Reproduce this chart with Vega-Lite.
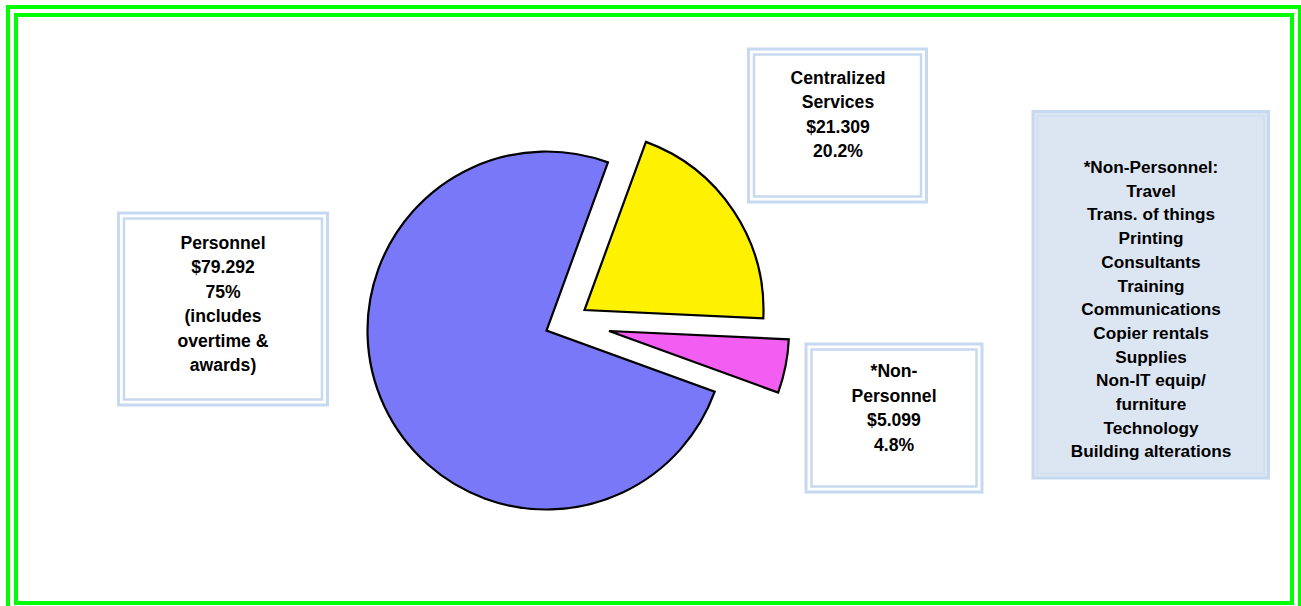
{
  "$schema": "https://vega.github.io/schema/vega-lite/v6.json",
  "width": 1301,
  "height": 606,
  "padding": 0,
  "autosize": {"type": "none"},
  "background": "white",
  "config": {"view": {"stroke": null}, "text": {"font": "Liberation Sans"}},
  "datasets": {
    "budget": [
      {"category": "Personnel", "amount": 79.292, "share": "75%", "label": "Personnel\n$79.292\n75%\n(includes\novertime &\nawards)"},
      {"category": "Centralized Services", "amount": 21.309, "share": "20.2%", "label": "Centralized\nServices\n$21.309\n20.2%"},
      {"category": "*Non-Personnel", "amount": 5.099, "share": "4.8%", "label": "*Non-\nPersonnel\n$5.099\n4.8%"}
    ],
    "notes": [
      {"note": "*Non-Personnel:\nTravel\nTrans. of things\nPrinting\nConsultants\nTraining\nCommunications\nCopier rentals\nSupplies\nNon-IT equip/\nfurniture\nTechnology\nBuilding alterations"}
    ],
    "frame": [{"frame": "border"}]
  },
  "data": {"name": "budget"},
  "layer": [
    {
      "data": {"name": "frame"},
      "mark": {"type": "rect", "fill": null, "stroke": "#00FF00", "strokeWidth": 4},
      "encoding": {
        "x": {"datum": 8, "type": "quantitative", "scale": {"domain": [0, 1301], "nice": false, "zero": false}, "axis": null},
        "x2": {"datum": 1300},
        "y": {"datum": 7, "type": "quantitative", "scale": {"domain": [0, 606], "nice": false, "zero": false, "reverse": true}, "axis": null},
        "y2": {"datum": 611}
      }
    },
    {
      "data": {"name": "frame"},
      "mark": {"type": "rect", "fill": null, "stroke": "#00FF00", "strokeWidth": 4},
      "encoding": {
        "x": {"datum": 16, "type": "quantitative"},
        "x2": {"datum": 1292},
        "y": {"datum": 15, "type": "quantitative"},
        "y2": {"datum": 603}
      }
    },
    {
      "transform": [
        {"stack": "amount", "groupby": [], "sort": [{"field": "amount", "order": "descending"}], "as": ["t0", "t1"]},
        {"filter": "datum.category === 'Personnel'"}
      ],
      "mark": {"type": "arc", "radius": 179, "stroke": "black", "strokeWidth": 2.2, "fill": "#7878F8"},
      "encoding": {
        "x": {"datum": 546.5, "type": "quantitative"},
        "y": {"datum": 330.5, "type": "quantitative"},
        "theta": {"field": "t0", "type": "quantitative", "scale": {"domain": [0, 105.7], "range": [1.92, 8.2032]}},
        "theta2": {"field": "t1"}
      }
    },
    {
      "transform": [
        {"stack": "amount", "groupby": [], "sort": [{"field": "amount", "order": "descending"}], "as": ["t0", "t1"]},
        {"filter": "datum.category === 'Centralized Services'"}
      ],
      "mark": {"type": "arc", "radius": 179, "stroke": "black", "strokeWidth": 2.2, "fill": "#FFF200"},
      "encoding": {
        "x": {"datum": 584.5, "type": "quantitative"},
        "y": {"datum": 310, "type": "quantitative"},
        "theta": {"field": "t0", "type": "quantitative"},
        "theta2": {"field": "t1"}
      }
    },
    {
      "transform": [
        {"stack": "amount", "groupby": [], "sort": [{"field": "amount", "order": "descending"}], "as": ["t0", "t1"]},
        {"filter": "datum.category === '*Non-Personnel'"}
      ],
      "mark": {"type": "arc", "radius": 180, "stroke": "black", "strokeWidth": 2.2, "fill": "#F25EF2"},
      "encoding": {
        "x": {"datum": 609, "type": "quantitative"},
        "y": {"datum": 331, "type": "quantitative"},
        "theta": {"field": "t0", "type": "quantitative"},
        "theta2": {"field": "t1"}
      }
    },
    {
      "transform": [{"filter": "datum.category === 'Personnel'"}],
      "mark": {"type": "rect", "fill": "white", "stroke": "#C6D9F1", "strokeWidth": 3},
      "encoding": {
        "x": {"datum": 118.5, "type": "quantitative"}, "x2": {"datum": 327.5},
        "y": {"datum": 213, "type": "quantitative"}, "y2": {"datum": 405}
      }
    },
    {
      "transform": [{"filter": "datum.category === 'Personnel'"}],
      "mark": {"type": "rect", "fill": null, "stroke": "#C6D9F1", "strokeWidth": 2.5},
      "encoding": {
        "x": {"datum": 124, "type": "quantitative"}, "x2": {"datum": 322},
        "y": {"datum": 218.5, "type": "quantitative"}, "y2": {"datum": 399.5}
      }
    },
    {
      "transform": [{"filter": "datum.category === 'Centralized Services'"}],
      "mark": {"type": "rect", "fill": "white", "stroke": "#C6D9F1", "strokeWidth": 3},
      "encoding": {
        "x": {"datum": 748.5, "type": "quantitative"}, "x2": {"datum": 926.5},
        "y": {"datum": 49, "type": "quantitative"}, "y2": {"datum": 202}
      }
    },
    {
      "transform": [{"filter": "datum.category === 'Centralized Services'"}],
      "mark": {"type": "rect", "fill": null, "stroke": "#C6D9F1", "strokeWidth": 2.5},
      "encoding": {
        "x": {"datum": 754, "type": "quantitative"}, "x2": {"datum": 921},
        "y": {"datum": 54.5, "type": "quantitative"}, "y2": {"datum": 196.5}
      }
    },
    {
      "transform": [{"filter": "datum.category === '*Non-Personnel'"}],
      "mark": {"type": "rect", "fill": "white", "stroke": "#C6D9F1", "strokeWidth": 3},
      "encoding": {
        "x": {"datum": 806, "type": "quantitative"}, "x2": {"datum": 982},
        "y": {"datum": 344, "type": "quantitative"}, "y2": {"datum": 492}
      }
    },
    {
      "transform": [{"filter": "datum.category === '*Non-Personnel'"}],
      "mark": {"type": "rect", "fill": null, "stroke": "#C6D9F1", "strokeWidth": 2.5},
      "encoding": {
        "x": {"datum": 811.5, "type": "quantitative"}, "x2": {"datum": 976.5},
        "y": {"datum": 349.5, "type": "quantitative"}, "y2": {"datum": 486.5}
      }
    },
    {
      "data": {"name": "notes"},
      "mark": {"type": "rect", "fill": "#DCE6F3", "stroke": "#C6D9F1", "strokeWidth": 3},
      "encoding": {
        "x": {"datum": 1033, "type": "quantitative"}, "x2": {"datum": 1268.5},
        "y": {"datum": 111.5, "type": "quantitative"}, "y2": {"datum": 478}
      }
    },
    {
      "data": {"name": "notes"},
      "mark": {"type": "rect", "fill": null, "stroke": "#D3E0F0", "strokeWidth": 2},
      "encoding": {
        "x": {"datum": 1037.5, "type": "quantitative"}, "x2": {"datum": 1264},
        "y": {"datum": 116, "type": "quantitative"}, "y2": {"datum": 473.5}
      }
    },
    {
      "transform": [{"filter": "datum.category === 'Personnel'"}],
      "mark": {"type": "text", "align": "center", "baseline": "middle", "fontSize": 17.6, "fontWeight": "bold", "lineHeight": 24.5, "lineBreak": "\n", "color": "black"},
      "encoding": {
        "x": {"datum": 223, "type": "quantitative"},
        "y": {"datum": 243.5, "type": "quantitative"},
        "text": {"field": "label"}
      }
    },
    {
      "transform": [{"filter": "datum.category === 'Centralized Services'"}],
      "mark": {"type": "text", "align": "center", "baseline": "middle", "fontSize": 17.6, "fontWeight": "bold", "lineHeight": 24.5, "lineBreak": "\n", "color": "black"},
      "encoding": {
        "x": {"datum": 838, "type": "quantitative"},
        "y": {"datum": 78.5, "type": "quantitative"},
        "text": {"field": "label"}
      }
    },
    {
      "transform": [{"filter": "datum.category === '*Non-Personnel'"}],
      "mark": {"type": "text", "align": "center", "baseline": "middle", "fontSize": 17.6, "fontWeight": "bold", "lineHeight": 24.5, "lineBreak": "\n", "color": "black"},
      "encoding": {
        "x": {"datum": 894, "type": "quantitative"},
        "y": {"datum": 372, "type": "quantitative"},
        "text": {"field": "label"}
      }
    },
    {
      "data": {"name": "notes"},
      "mark": {"type": "text", "align": "center", "baseline": "middle", "fontSize": 17.2, "fontWeight": "bold", "lineHeight": 23.7, "lineBreak": "\n", "color": "black"},
      "encoding": {
        "x": {"datum": 1151, "type": "quantitative"},
        "y": {"datum": 168, "type": "quantitative"},
        "text": {"field": "note"}
      }
    }
  ]
}
